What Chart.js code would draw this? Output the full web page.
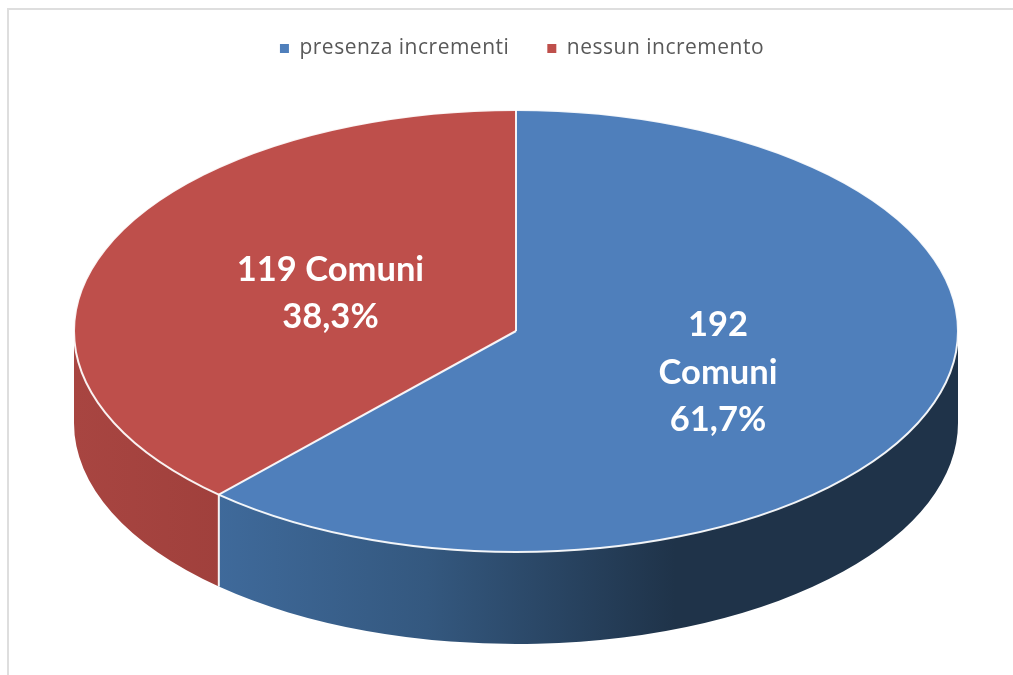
<!DOCTYPE html>
<html>
<head>
<meta charset="utf-8">
<title>Incrementi Comuni</title>
<script src="https://cdn.jsdelivr.net/npm/chart.js@4"></script>
<style>
  html, body { margin: 0; padding: 0; background: #fff; overflow: hidden; }
  #wrap { position: relative; width: 1013px; height: 675px; }
  #frame { position: absolute; left: 7px; top: 8px; right: 0; bottom: 0; border-left: 2px solid #dedede; border-top: 2px solid #dedede; }
  canvas { position: absolute; left: 0; top: 0; filter: blur(0.4px); }
</style>
</head>
<body>
<div id="wrap">
  <div id="frame"></div>
  <canvas id="chart1" width="1013" height="675"></canvas>
</div>
<script>
const categories = ['presenza incrementi', 'nessun incremento'];
const comuni = [192, 119];
const sliceLabels = [['192', 'Comuni', '61,7%'], ['119 Comuni', '38,3%']];
const topColors = ['#4f7fbb', '#be4f4b'];

// la torta viene schiacciata in un'ellisse, con lo spessore disegnato sotto
const tilt = { cx: 516, cy: 331, rx: 442, ry: 221, depth: 92 };
const labelPos = [[0.49, 0.52], [0.45, 0.47]];

function sideGradient(ctx, i) {
  const g = ctx.createLinearGradient(tilt.cx - tilt.rx, 0, tilt.cx + tilt.rx, 0);
  if (i === 0) {
    g.addColorStop(0.16, '#3f6a9b');
    g.addColorStop(0.4, '#34587f');
    g.addColorStop(0.68, '#1f3349');
    g.addColorStop(1, '#1f3349');
  } else {
    g.addColorStop(0, '#a84541');
    g.addColorStop(0.17, '#a0403c');
  }
  return g;
}

const pie3d = {
  id: 'pie3d',
  // la legenda nell'originale e' piu' larga
  beforeLayout(chart) {
    chart.ctx.letterSpacing = '0.5px';
  },
  beforeDraw(chart) {
    chart.ctx.letterSpacing = '0.5px';
  },
  beforeDatasetsDraw(chart) {
    const ctx = chart.ctx;
    const arcs = chart.getDatasetMeta(0).data;
    arcs.forEach((arc, i) => {
      // solo la parte davanti (da 0 a PI) si vede
      const a0 = Math.max(arc.startAngle, 0);
      const a1 = Math.min(arc.endAngle, Math.PI);
      if (a1 <= a0) return;
      ctx.beginPath();
      ctx.ellipse(tilt.cx, tilt.cy, tilt.rx, tilt.ry, 0, a0, a1);
      ctx.ellipse(tilt.cx, tilt.cy + tilt.depth, tilt.rx, tilt.ry, 0, a1, a0, true);
      ctx.closePath();
      ctx.fillStyle = sideGradient(ctx, i);
      ctx.fill();
    });
    const first = arcs[0];
    ctx.save();
    ctx.translate(tilt.cx, tilt.cy);
    ctx.scale(tilt.rx / first.outerRadius, tilt.ry / first.outerRadius);
    ctx.translate(-first.x, -first.y);
  },
  afterDatasetsDraw(chart) {
    const ctx = chart.ctx;
    ctx.restore();
    const arcs = chart.getDatasetMeta(0).data;

    // bordi bianchi
    ctx.strokeStyle = 'rgba(255,255,255,0.92)';
    ctx.lineWidth = 2;
    ctx.beginPath();
    ctx.ellipse(tilt.cx, tilt.cy, tilt.rx, tilt.ry, 0, 0, Math.PI * 2);
    ctx.stroke();
    arcs.forEach(arc => {
      const ex = tilt.cx + tilt.rx * Math.cos(arc.startAngle);
      const ey = tilt.cy + tilt.ry * Math.sin(arc.startAngle);
      ctx.beginPath();
      ctx.moveTo(tilt.cx, tilt.cy);
      ctx.lineTo(ex, ey);
      ctx.stroke();
      if (Math.sin(arc.startAngle) > 0) {
        ctx.beginPath();
        ctx.moveTo(ex, ey);
        ctx.lineTo(ex, ey + tilt.depth);
        ctx.stroke();
      }
    });

    // etichette
    ctx.save();
    ctx.letterSpacing = '0px';
    ctx.fillStyle = '#fff';
    ctx.font = 'bold 34.5px Lato';
    ctx.textAlign = 'center';
    ctx.textBaseline = 'middle';
    arcs.forEach((arc, i) => {
      const mid = (arc.startAngle + arc.endAngle) / 2;
      const x = tilt.cx + tilt.rx * labelPos[i][0] * Math.cos(mid);
      const y = tilt.cy + tilt.ry * labelPos[i][1] * Math.sin(mid);
      const lines = sliceLabels[i];
      lines.forEach((t, k) => {
        ctx.fillText(t, x, y + (k - (lines.length - 1) / 2) * 47.5);
      });
    });
    ctx.restore();
  }
};

document.addEventListener('DOMContentLoaded', () => {
  const ctx = document.getElementById('chart1').getContext('2d');
  new Chart(ctx, {
    type: 'pie',
    data: {
      labels: categories,
      datasets: [{
        data: comuni,
        backgroundColor: topColors,
        borderWidth: 0,
        clip: false
      }]
    },
    options: {
      responsive: false,
      animation: false,
      layout: { padding: { left: 31, top: 0, bottom: 97 } },
      plugins: {
        tooltip: { enabled: false },
        legend: {
          position: 'top',
          labels: {
            color: '#595959',
            font: { family: 'Open Sans', size: 21 },
            boxWidth: 9,
            boxHeight: 9,
            padding: 38
          }
        }
      }
    },
    plugins: [pie3d]
  });
});
</script>
</body>
</html>
